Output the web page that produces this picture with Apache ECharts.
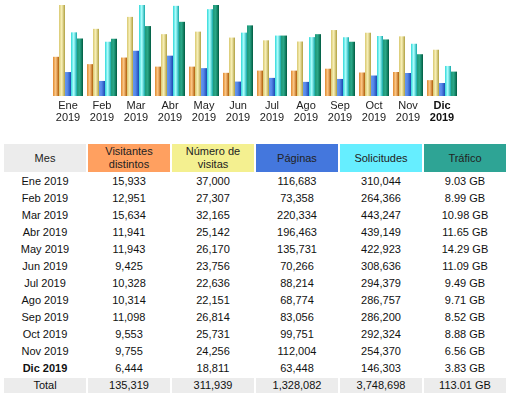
<!DOCTYPE html>
<html>
<head>
<meta charset="utf-8">
<script src="https://cdn.jsdelivr.net/npm/echarts@6/dist/echarts.min.js"></script>
<style>
html,body{margin:0;padding:0;background:#fff;width:522px;height:395px;overflow:hidden;font-family:"Liberation Sans",Arial,sans-serif;}
#chart{position:absolute;left:0;top:0;width:522px;height:135px;}
#tbl{position:absolute;left:2px;top:142px;border-collapse:separate;border-spacing:2px;font-size:11px;color:#111;}
#tbl td,#tbl th{width:82px;padding:0;text-align:center;font-weight:normal;height:15px;line-height:13px;}
#tbl th{height:28px;color:#222;}
#tbl tr.tot td{background:#ececec;}
</style>
</head>
<body>
<div id="chart"></div>
<table id="tbl"></table>
<script>
var months = ["Ene","Feb","Mar","Abr","May","Jun","Jul","Ago","Sep","Oct","Nov","Dic"];
var year = "2019";
var visitors = [15933,12951,15634,11941,11943,9425,10328,10314,11098,9553,9755,6444];
var visits = [37000,27307,32165,25142,26170,23756,22636,22151,26814,25731,24256,18811];
var pages = [116683,73358,220334,196463,135731,70266,88214,68774,83056,99751,112004,63448];
var hits = [310044,264366,443247,439149,422923,308636,294379,286757,286200,292324,254370,146303];
var trafficGB = [9.03,8.99,10.98,11.65,14.29,11.09,9.49,9.71,8.52,8.88,6.56,3.83];
var headers = ["Mes","Visitantes distintos","Número de visitas","Páginas","Solicitudes","Tráfico"];
var headerColors = ["#ececec","#ffa060","#f4f090","#4477dd","#66eeff","#2ea495"];
var totals = ["Total","135,319","311,939","1,328,082","3,748,698","113.01 GB"];
var currentIndex = 11;

function grad(c1,c2,c3){
  return new echarts.graphic.LinearGradient(0,0,1,0,[
    {offset:0,color:c1},{offset:0.45,color:c2},{offset:1,color:c3}
  ]);
}
var chart = echarts.init(document.getElementById('chart'),null,{renderer:'canvas'});
function bar(name,data,axis,colors){
  return {name:name,type:'bar',data:data,yAxisIndex:axis,barWidth:6,barGap:'0%',
    itemStyle:{color:grad(colors[0],colors[1],colors[2])},silent:true,animation:false};
}
chart.setOption({
  animation:false,
  grid:{left:51,right:63,top:5,bottom:39},
  xAxis:{type:'category',data:months,axisLine:{show:false},axisTick:{show:false},
    axisLabel:{interval:0,margin:4,fontSize:11,lineHeight:12,color:'#222',fontFamily:'Liberation Sans',
      formatter:function(v,i){return i===currentIndex?'{b|'+v+'}\n{b|'+year+'}':v+'\n'+year;},
      rich:{b:{fontWeight:'bold',fontSize:11,lineHeight:12,color:'#111',fontFamily:'Liberation Sans'}}}},
  yAxis:[
    {type:'value',show:false,min:0,max:'dataMax'},
    {type:'value',show:false,min:0,max:'dataMax'},
    {type:'value',show:false,min:0,max:'dataMax'}
  ],
  series:[
    bar('Visitantes distintos',visitors,0,['#e08a30','#fcc888','#b05c08']),
    bar('Número de visitas',visits,0,['#d8c870','#f8f0b8','#b0a040']),
    bar('Páginas',pages,1,['#6699ee','#5585e8','#1a48b0']),
    bar('Solicitudes',hits,1,['#30d8d8','#b0ffff','#10a8a8']),
    bar('Tráfico',trafficGB,2,['#20987a','#2aa888','#005a40'])
  ]
});

function fmt(n){return n.toLocaleString('en-US');}
var tbl = document.getElementById('tbl');
var html = '<tr>';
headers.forEach(function(h,i){html+='<th style="background:'+headerColors[i]+'">'+h.replace(' ','<br>').replace('Número<br>de','Número de<br>').replace('de visitas','visitas')+'</th>';});
html+='</tr>';
months.forEach(function(m,i){
  var st = i===currentIndex?' style="font-weight:bold"':'';
  html+='<tr><td'+st+'>'+m+' '+year+'</td><td>'+fmt(visitors[i])+'</td><td>'+fmt(visits[i])+'</td><td>'+fmt(pages[i])+'</td><td>'+fmt(hits[i])+'</td><td>'+trafficGB[i].toFixed(2)+' GB</td></tr>';
});
html+='<tr class="tot">'+totals.map(function(t){return '<td>'+t+'</td>';}).join('')+'</tr>';
tbl.innerHTML = html;
</script>
</body>
</html>
